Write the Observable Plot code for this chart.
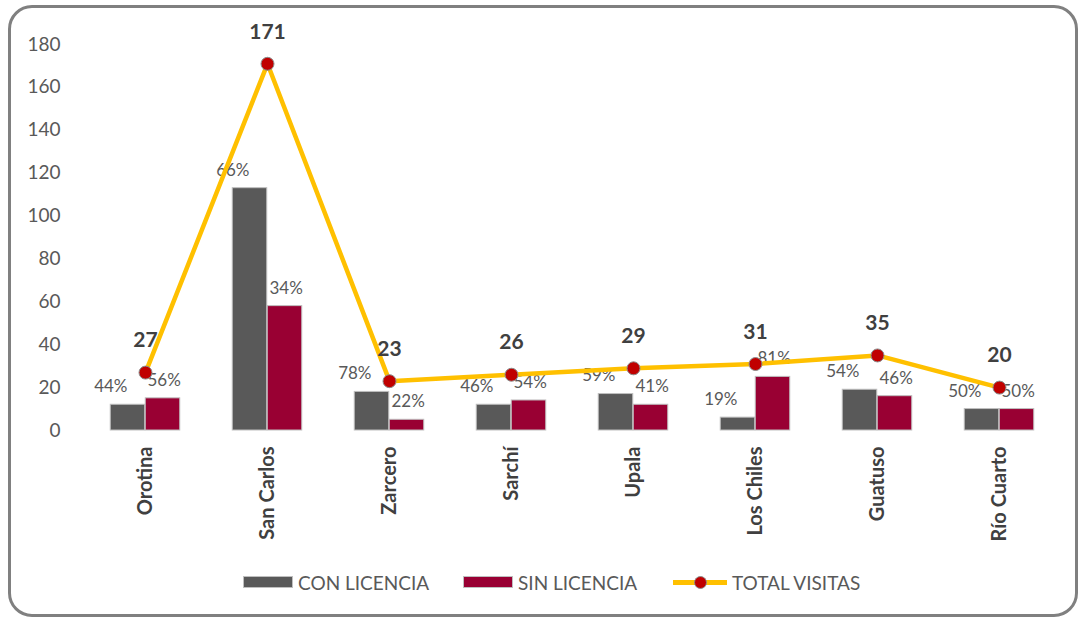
<!DOCTYPE html>
<html>
<head>
<meta charset="utf-8">
<script src="https://cdn.jsdelivr.net/npm/d3@7"></script>
<script src="https://cdn.jsdelivr.net/npm/@observablehq/plot@0.6"></script>
<style>
  html, body { margin: 0; padding: 0; background: #fff; }
  body { width: 1079px; height: 618px; position: relative; overflow: hidden; font-family: Lato, "Open Sans", sans-serif; }
  #frame { position: absolute; left: 8px; top: 5px; width: 1064px; height: 606px; border: 3px solid #808080; border-radius: 24px; box-sizing: content-box; }
  #chart { position: absolute; left: 0; top: 0; }
  #legend { position: absolute; top: 571px; left: 0; width: 1079px; height: 22px; font-size: 19px; color: #595959; }
  .item { position: absolute; top: 0; display: flex; align-items: center; height: 22px; white-space: nowrap; }
  .sw { display: inline-block; width: 50px; height: 12px; margin-right: 5px; box-sizing: border-box; border: 1px solid #bfbfbf; }
  .ln { position: relative; width: 54px; height: 22px; margin-right: 5px; }
  .ln .bar { position: absolute; left: 0; top: 9px; width: 54px; height: 4.5px; background: #FFC000; }
  .ln .dot { position: absolute; left: 21px; top: 5px; width: 13px; height: 13px; border-radius: 50%; background: #C00000; box-sizing: border-box; border: 1px solid #8c8c8c; }
</style>
</head>
<body>
<div id="frame"></div>
<div id="chart"></div>
<div id="legend">
  <div class="item" style="left:243px"><span class="sw" style="background:#595959"></span>CON LICENCIA</div>
  <div class="item" style="left:463px"><span class="sw" style="background:#990033"></span>SIN LICENCIA</div>
  <div class="item" style="left:673px"><span class="ln"><span class="bar"></span><span class="dot"></span></span>TOTAL VISITAS</div>
</div>
<script>
const categories = ["Orotina", "San Carlos", "Zarcero", "Sarchí", "Upala", "Los Chiles", "Guatuso", "Río Cuarto"];
const conLicencia = [12, 113, 18, 12, 17, 6, 19, 10];
const sinLicencia = [15, 58, 5, 14, 12, 25, 16, 10];
const totalVisitas = [27, 171, 23, 26, 29, 31, 35, 20];
const pctCon = [44, 66, 78, 46, 59, 19, 54, 50];
const pctSin = [56, 34, 22, 54, 41, 81, 46, 50];
const yTicks = [0, 20, 40, 60, 80, 100, 120, 140, 160, 180];

const data = categories.map((c, i) => ({
  cat: c, con: conLicencia[i], sin: sinLicencia[i], total: totalVisitas[i],
  pc: pctCon[i] + "%", ps: pctSin[i] + "%"
}));

const W = 1079, H = 560, ML = 82, MR = 17, MT = 44, MB = 130;
const bw = (W - ML - MR) / categories.length;
const barW = 35;

const chart = Plot.plot({
  width: W, height: H,
  marginLeft: ML, marginRight: MR, marginTop: MT, marginBottom: MB,
  style: { fontFamily: "Lato, 'Open Sans', sans-serif", fontSize: "17px", color: "#595959", background: "transparent" },
  x: { domain: categories, padding: 0, label: null },
  y: { domain: [0, 180], label: null },
  marks: [
    Plot.ruleY(yTicks, { stroke: "#d9d9d9", strokeWidth: 1.5, x1: categories[0], x2: categories[categories.length - 1], insetLeft: -bw / 2, insetRight: -bw / 2 }),
    Plot.axisY({ ticks: yTicks, tickSize: 0, tickPadding: 22, fontSize: 19, fill: "#595959", label: null }),
    Plot.axisX({ tickSize: 0, tickPadding: 16, tickRotate: -90, fontSize: 20, fontWeight: "bold", fill: "#404040", label: null }),
    Plot.barY(data, { x: "cat", y: "con", fill: "#595959", stroke: "#bfbfbf", strokeWidth: 1, insetLeft: bw / 2 - barW, insetRight: bw / 2 }),
    Plot.barY(data, { x: "cat", y: "sin", fill: "#990033", stroke: "#bfbfbf", strokeWidth: 1, insetLeft: bw / 2, insetRight: bw / 2 - barW }),
    Plot.text(data, { x: "cat", y: "con", text: "pc", textAnchor: "end", dx: -18, dy: -18, fill: "#595959", fontSize: 17 }),
    Plot.text(data, { x: "cat", y: "sin", text: "ps", textAnchor: "start", dx: 2, dy: -18, fill: "#595959", fontSize: 17 }),
    Plot.line(data, { x: "cat", y: "total", stroke: "#FFC000", strokeWidth: 4.5 }),
    Plot.dot(data, { x: "cat", y: "total", r: 6.5, fill: "#C00000", stroke: "#8c8c8c", strokeWidth: 1 }),
    Plot.text(data, { x: "cat", y: "total", text: d => String(d.total), dy: -32, fontSize: 21, fontWeight: "bold", fill: "#404040" })
  ]
});
document.getElementById("chart").appendChild(chart);
</script>
</body>
</html>
